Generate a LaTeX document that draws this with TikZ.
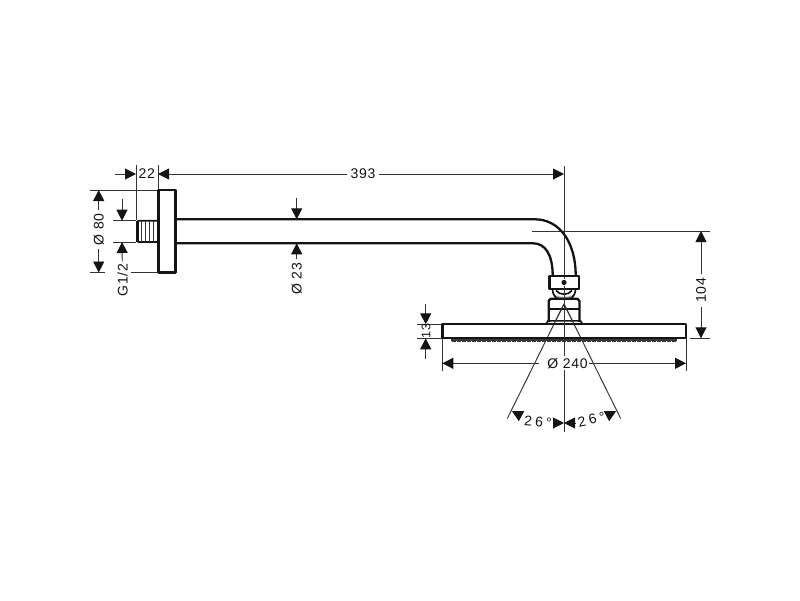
\documentclass[tikz,border=0pt]{standalone}
\usepackage{fontspec}
\setmainfont{Liberation Sans}[LetterSpace=5]
\usetikzlibrary{arrows.meta}
\definecolor{inkc}{HTML}{141414}
\definecolor{thinc}{HTML}{333333}
\tikzset{
    part/.style={draw=inkc, line width=2.3pt, line join=round},
    thinline/.style={draw=thinc, line width=0.95pt},
    dimline/.style={thinline, >={Triangle[length=11pt,width=11pt,inkc]}},
    dimtext/.style={fill=white, inner xsep=2pt, inner ysep=3pt, text=inkc, font=\fontsize{14}{14}\selectfont}
}
\begin{document}
\begin{tikzpicture}[x=1pt, y=-1pt]
    \useasboundingbox (0,0) rectangle (800,600);

    % Centre line and spray cone
    \coordinate (ctop) at (564,166);
    \coordinate (cbot) at (564,432);
    \coordinate (apex) at (564,304);
    \coordinate (conel) at (507.3,418.5);
    \coordinate (coner) at (620.7,418.5);
    \draw [thinline] (ctop) -- (cbot);
    \draw [thinline] (apex) -- (conel);
    \draw [thinline] (apex) -- (coner);

    % Extension lines
    \draw [thinline] (136,165) -- (136,220);
    \draw [thinline] (158,165) -- (158,190);
    \draw [thinline] (90,190) -- (158,190);
    \draw [thinline] (90,272.5) -- (105,272.5);
    \draw [thinline] (130,272.5) -- (158,272.5);
    \draw [thinline] (113,220.7) -- (136,220.7);
    \draw [thinline] (113,242) -- (136,242);
    \draw [thinline] (532,231) -- (710,231);
    \draw [thinline] (690,338.3) -- (710,338.3);
    \draw [thinline] (417,324.3) -- (442,324.3);
    \draw [thinline] (417,338.3) -- (442,338.3);
    \draw [thinline] (442.3,338) -- (442.3,371);
    \draw [thinline] (686,338) -- (686,371);

    % Wall plate and thread
    \draw [part] (158.5,190) rectangle (175.5,272.5);
    \draw [part, line width=1.6pt, rounded corners=1.5pt] (157,220.7) -- (136.8,220.7) -- (136.8,242) -- (157,242);
    \fill [inkc] (136,221) rectangle (139,241.7);
    \foreach \xs in {141.5,145.5,149.5,153.5} {
        \draw [thinc, line width=0.8pt] (\xs,221) -- (\xs,241.7);
    }

    % Arm
    \draw [part] (175.5,219.3) -- (535,219.3) .. controls (558,219.3) and (575.7,240) .. (575.7,276);
    \draw [part] (175.5,243.3) -- (533,243.3) .. controls (545,243.3) and (552.7,254) .. (552.7,276);

    % Joint
    \fill [gray!70] (555,295) .. controls (560,297.5) and (568,297.5) .. (573,295) -- (574,298.3) -- (554,298.3) -- cycle;
    \draw [part, line width=1.7pt] (552.5,289) .. controls (552.5,293) and (554,296) .. (557,298.3);
    \draw [part, line width=1.7pt] (575.5,289) .. controls (575.5,293) and (574,296) .. (571,298.3);
    \draw [part, line width=1.7pt] (556,290.5) .. controls (560,295.5) and (568,295.5) .. (572,290.5);
    \draw [part, fill=white] (549.5,276) rectangle (578.8,288.7);
    \fill [inkc] (564,282.5) circle (2.6);
    \draw [part] (548.7,322) -- (548.7,301) -- (550.5,298.8) -- (577.5,298.8) -- (579.5,301) -- (579.5,322);
    \draw [part] (548.7,309.3) -- (579.5,309.3);
    \draw [part, line width=1.6pt] (546,324) -- (548,320.8) -- (580.5,320.8) -- (582.5,324);

    % Shower head
    \fill [inkc!85] (450.7,338) rectangle (677,342.3);
    \draw [white, line width=0.8pt, dash pattern=on 1pt off 4pt] (451,341) -- (677,341);
    \draw [part] (442.5,324.3) rectangle (686,338);

    % Cone lines and centre line over the joint
    \draw [thinline] (apex) -- (555,322);
    \draw [thinline] (apex) -- (573,322);
    \draw [thinline] (564,276) -- (564,279);
    \draw [thinline] (564,286) -- (564,338);

    % Dimension 22 and 393
    \node [dimtext, inner xsep=0pt] (t22) at (146.8,174) {22};
    \node [dimtext, inner xsep=3pt] (t393) at (363,174) {393};
    \coordinate (a22) at (115,174);
    \coordinate (l22) at (136,174);
    \coordinate (r22) at (158,174);
    \coordinate (r393) at (564,174);
    \draw [dimline, ->] (a22) -- (l22);
    \draw [dimline, ->] (t393) -- (r22);
    \draw [dimline, ->] (t393) -- (r393);

    % Dimension 80
    \node [dimtext, inner xsep=3pt, rotate=90] (t80) at (98.7,229.5) {Ø 80};
    \coordinate (u80) at (98.7,190);
    \coordinate (d80) at (98.7,272.5);
    \draw [dimline, ->] (t80) -- (u80);
    \draw [dimline, ->] (t80) -- (d80);

    % Dimension G1/2
    \node [dimtext, rotate=90] (tg) at (122.5,280) {G1/2};
    \coordinate (ag) at (122,199);
    \coordinate (ug) at (122,220.7);
    \coordinate (dg) at (122,242);
    \draw [dimline, ->] (ag) -- (ug);
    \draw [dimline, ->] (tg) -- (dg);

    % Dimension 23
    \node [dimtext, inner xsep=4pt, rotate=90] (t23) at (296.7,279) {Ø 23};
    \coordinate (a23) at (296.7,198);
    \coordinate (u23) at (296.7,219.3);
    \coordinate (d23) at (296.7,243.3);
    \draw [dimline, ->] (a23) -- (u23);
    \draw [dimline, ->] (t23) -- (d23);

    % Dimension 104
    \node [dimtext, inner xsep=4pt, rotate=90] (t104) at (701,290.5) {104};
    \coordinate (u104) at (701,231);
    \coordinate (d104) at (701,338.3);
    \draw [dimline, ->] (t104) -- (u104);
    \draw [dimline, ->] (t104) -- (d104);

    % Dimension 13
    \coordinate (a13) at (425.7,304);
    \coordinate (u13) at (425.7,324.3);
    \coordinate (d13) at (425.7,338.3);
    \coordinate (b13) at (425.7,359);
    \draw [dimline, ->] (a13) -- (u13);
    \draw [dimline, ->] (b13) -- (d13);
    \node [dimtext, fill=none, inner sep=0pt, rotate=90, font=\fontsize{12.5}{12.5}\selectfont] (t13) at (426,331.3) {13};

    % Dimension 240
    \node [dimtext, inner xsep=1pt, inner ysep=2pt] (t240) at (564,363.3) {\hspace*{7pt}Ø 240};
    \coordinate (l240) at (442.3,363.3);
    \coordinate (r240) at (686,363.3);
    \draw [dimline, ->] (t240) -- (l240);
    \draw [dimline, ->] (t240) -- (r240);

    % Dimension 26 degrees
    \coordinate (tl26) at (511.8,411);
    \coordinate (sl26) at (521.5,416.2);
    \coordinate (tr26) at (616.2,411);
    \coordinate (sr26) at (606.5,416.2);
    \coordinate (cl26) at (564,423);
    \coordinate (cr26) at (564,423);
    \coordinate (al26) at (553,423);
    \coordinate (ar26) at (575,423);
    \draw [dimline, ->] (sl26) -- (tl26);
    \draw [dimline, ->] (sr26) -- (tr26);
    \draw [dimline, ->] (al26) -- (cl26);
    \draw [dimline, ->] (ar26) -- (cr26);
    \node [dimtext, fill=none, inner sep=0pt, rotate=-5] (tl) at (538,421.5) {2\hspace{3.2pt}6\hspace{3.2pt}°};
    \node [dimtext, fill=none, inner sep=0pt, rotate=13] (tr) at (591.5,419.5) {2\hspace{3.2pt}6\hspace{3.2pt}°};
\end{tikzpicture}
\end{document}
